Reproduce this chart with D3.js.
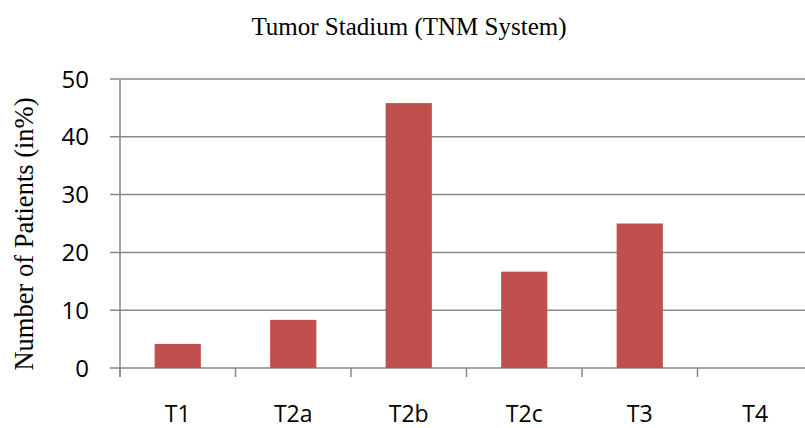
<!DOCTYPE html>
<html><head><meta charset="utf-8">
<script src="https://cdn.jsdelivr.net/npm/d3@7"></script>
<style>body{margin:0;background:#fff}svg{display:block}</style>
</head><body>
<svg id="c" width="805" height="428"></svg>
<script>
const categories = ["T1","T2a","T2b","T2c","T3","T4"];
const values = [4.17, 8.33, 45.83, 16.67, 25, 0];
const yTicks = [0,10,20,30,40,50];
const title = "Tumor Stadium (TNM System)";
const yLabel = "Number of Patients (in%)";

const svg = d3.select("#c");
const L = 120, R = 813, T = 79, B = 368;
const x = d3.scaleBand().domain(categories).range([L, R]).paddingInner(0.6).paddingOuter(0.3);
const y = d3.scaleLinear().domain([0,50]).range([B, T]);
const grid = "#888888";

// gridlines + y ticks
svg.append("g").selectAll("line").data(yTicks).join("line")
  .attr("x1", L-10).attr("x2", 805)
  .attr("y1", d=>y(d)).attr("y2", d=>y(d))
  .attr("stroke", grid).attr("stroke-width", 1.5);
// y axis line
svg.append("line").attr("x1", L).attr("x2", L).attr("y1", y(50)).attr("y2", B+9)
  .attr("stroke", grid).attr("stroke-width", 1.5);
// category ticks
const off = (x.step()-x.bandwidth())/2;
svg.append("g").selectAll("line").data(categories).join("line")
  .attr("x1", d=>x(d)-off).attr("x2", d=>x(d)-off)
  .attr("y1", B).attr("y2", B+9)
  .attr("stroke", grid).attr("stroke-width", 1.5);

// bars
svg.append("g").selectAll("rect").data(categories).join("rect")
  .attr("x", d=>x(d)).attr("width", x.bandwidth())
  .attr("y", (d,i)=>y(values[i])).attr("height", (d,i)=>B-y(values[i]))
  .attr("fill", "#C0504D");

// y tick labels
svg.append("g").selectAll("text").data(yTicks).join("text")
  .attr("x", 89).attr("y", d=>y(d)).attr("dy", "0.36em")
  .attr("text-anchor", "end")
  .attr("font-family", "Open Sans").attr("font-size", 24).attr("fill", "#000")
  .text(d=>d);

// x labels
svg.append("g").selectAll("text").data(categories).join("text")
  .attr("x", d=>x(d)+x.bandwidth()/2).attr("y", 422)
  .attr("text-anchor", "middle")
  .attr("font-family", "Open Sans").attr("font-size", 23).attr("fill", "#000")
  .text(d=>d);

// title
svg.append("text").attr("x", 409).attr("y", 35).attr("text-anchor", "middle")
  .attr("font-family", "Liberation Serif").attr("font-size", 25).text(title);

// y label
svg.append("text").attr("transform", "translate(33,234) rotate(-90)")
  .attr("text-anchor", "middle")
  .attr("font-family", "Liberation Serif").attr("font-size", 26.5).text(yLabel);
</script>
</body></html>
